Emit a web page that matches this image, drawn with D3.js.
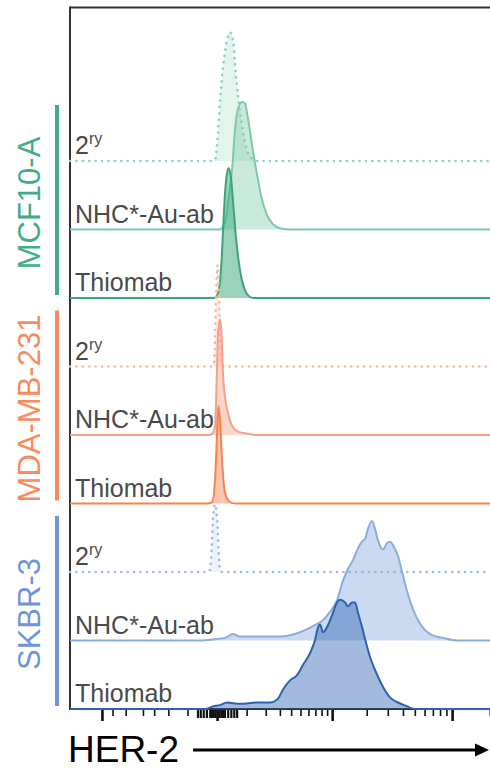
<!DOCTYPE html>
<html>
<head>
<meta charset="utf-8">
<script src="https://cdn.jsdelivr.net/npm/d3@7"></script>
<style>
  html, body { margin: 0; padding: 0; background: #fff; }
  svg { display: block; font-family: "Liberation Sans", Arial, Helvetica, sans-serif; }
</style>
</head>
<body>
<svg id="chart" width="490" height="769"></svg>
<script>
// ---- data: HER-2 fluorescence histograms (normalised to mode, %) ----
const cellLines = ["MCF10-A", "MDA-MB-231", "SKBR-3"];
const stainings = ["2ry", "NHC*-Au-ab", "Thiomab"];

const mcf2ryX  = [-10.6, -5.2, 2.6, 7.9, 16.2, 28, 37.4, 47.4, 54.3, 65.2, 80.7, 101.8, 124.9, 150.1];
const mcf2ryY  = [0, 1, 22, 47, 72, 93, 99, 93, 74, 50, 27, 8, 2, 0];
const mcfNhcX  = [5.2, 16.2, 24.9, 34.2, 44, 54.3, 65.2, 80.7, 93.1, 106.3, 124.9, 150.1, 177.7, 208.1, 248.3, 301.1, 389.2];
const mcfNhcY  = [0, 2, 9, 27, 46, 77, 93, 98, 97, 85, 65, 42, 23, 11, 4, 1, 0];
const mcfThioX = [-7.9, 2.6, 10.6, 16.2, 22, 28, 32.6, 40.7, 47.4, 57.9, 72.9, 88.9, 106.3, 129.7];
const mcfThioY = [0, 4, 22, 52, 81, 96, 100, 92, 74, 46, 21, 8, 2, 0];

const mda2ryX  = [-16.2, -7.9, -5.2, -2.6, 1.3, 5.2, 7.9, 13.4, 19];
const mda2ryY  = [0, 2, 23, 54, 78, 54, 23, 2, 0];
const mdaNhcX  = [-22, -13.4, -5.2, 0, 2.6, 7.9, 12, 16.2, 22, 28, 47.4, 72.9, 106.3, 139.7];
const mdaNhcY  = [0, 1, 7, 53, 79, 89, 77, 46, 29, 20, 6, 2, 1, 0];
const mdaThioX = [-24.9, -13.4, -5.2, 0, 3.4, 7.9, 13.4, 22, 37.4, 54.3];
const mdaThioY = [0, 1, 18, 54, 75, 64, 33, 8, 1, 0];

const skb2ryX  = [-24.9, -19, -14.8, -10.6, -5.2, 0, 3.9, 7.9, 13.4];
const skb2ryY  = [0, 2, 17, 42, 52, 42, 17, 2, 0];
const skbNhcX  = [-50.8, -5.2, 22, 47.4, 72.9, 139.7, 301.1, 439.6, 555.5, 694.4,
                  807.9, 956.6, 1105.7, 1249.5, 1382, 1527.2, 1686.1, 1824.1, 1934.4, 2051,
                  2216.6, 2348.9, 2488.7, 2739.3, 2957, 3130.9, 3378.1, 3644, 3930, 4318.1,
                  4832.9, 5509.2, 6638.3, 8448.8, 10943.5];
const skbNhcY  = [0, 1, 2, 5, 3, 3, 3, 5, 8, 12,
                  15, 22, 31, 46, 55, 62, 71, 76, 78, 86,
                  92, 86, 77, 70, 75, 76, 72, 65, 53, 38,
                  24, 13, 5, 2, 0];
const skbThioX = [-34.2, -10.6, 7.9, 28, 72.9, 150.1, 227.6, 285.3, 325.8, 389.2,
                  461.1, 530.6, 621.8, 694.4, 741.3, 774, 825.3, 898.2, 997.2, 1105.7,
                  1175.6, 1301.1, 1382, 1497.1, 1589, 1686.1, 1824.1, 1972.6, 2132.2, 2348.9,
                  2739.3, 3130.9, 3644, 4318.1, 5017.4];
const skbThioY = [0, 2, 3, 5, 4, 5, 5, 8, 15, 22,
                  26, 34, 43, 53, 63, 65, 59, 63, 72, 82,
                  84, 82, 79, 82, 82, 74, 63, 51, 40, 30,
                  17, 9, 5, 2, 0];

// axis ticks (no labels)
const majorTicks = [-1000, 0, 1000, 10000];
const minorTicks = [-800, -600, -400, -300, -200, -100,
                    100, 200, 300, 400, 500, 600, 700, 800, 900,
                    2000, 3000, 4000, 5000, 6000, 7000, 8000, 9000, 20000];
const linearTicks = [-60, -50, -40, -30, -20, -15, -10, -5, 5, 10, 15, 20, 30, 40, 50, 60];
const axisTitle = "HER-2";

// ---- styling ----
const groupColors = ["#42ad84", "#f98a5c", "#6f95d8"];
const rowStyle = [
  { stroke: "#8fd4b6", fillOp: 0.25, dotted: true },
  { stroke: "#7fcaa8", fillOp: 0.42, dotted: false },
  { stroke: "#3aa57a", fillOp: 0.50, dotted: false },
  { stroke: "#f9b8a1", fillOp: 0.25, dotted: true },
  { stroke: "#f4a189", fillOp: 0.45, dotted: false },
  { stroke: "#f7834f", fillOp: 0.45, dotted: false },
  { stroke: "#a3bbe7", fillOp: 0.20, dotted: true },
  { stroke: "#8badde", fillOp: 0.45, dotted: false },
  { stroke: "#2e62b0", fillOp: 0.44, dotted: false }
];

const rows = [
  [mcf2ryX, mcf2ryY], [mcfNhcX, mcfNhcY], [mcfThioX, mcfThioY],
  [mda2ryX, mda2ryY], [mdaNhcX, mdaNhcY], [mdaThioX, mdaThioY],
  [skb2ryX, skb2ryY], [skbNhcX, skbNhcY], [skbThioX, skbThioY]
].map((r, i) => ({
  key: cellLines[Math.floor(i / 3)] + "|" + stainings[i % 3],
  group: Math.floor(i / 3),
  label: stainings[i % 3],
  pts: r[0].map((v, j) => [v, r[1][j]]),
  style: rowStyle[i]
}));

// ---- layout ----
const plotL = 70, plotR = 490, plotT = 7.5, plotB = 709;
const svg = d3.select("#chart");

const x = d3.scaleSymlog().constant(140).domain([-1900, 20080]).range([plotL, plotR]);
const rowY = d3.scalePoint().domain(rows.map(r => r.key)).range([161, plotB]);
const hScale = d3.scaleLinear().domain([0, 100]).range([0, 130]);

// frame
svg.append("line").attr("x1", plotL).attr("x2", plotR).attr("y1", plotT).attr("y2", plotT)
  .attr("stroke", "#333").attr("stroke-width", 2);
svg.append("line").attr("x1", plotL).attr("x2", plotL).attr("y1", plotT - 1).attr("y2", plotB + 1)
  .attr("stroke", "#333").attr("stroke-width", 2);
svg.append("line").attr("x1", plotL).attr("x2", plotR).attr("y1", plotB).attr("y2", plotB)
  .attr("stroke", "#333").attr("stroke-width", 2);

// ridges
const [d0, d1] = x.domain();
const curves = svg.append("g");
rows.forEach(r => {
  const base = rowY(r.key);
  const data = [[d0, 0], ...r.pts, [d1, 0]];
  const area = d3.area().x(d => x(d[0])).y0(base).y1(d => base - hScale(d[1])).curve(d3.curveMonotoneX);
  const line = d3.line().x(d => x(d[0])).y(d => base - hScale(d[1])).curve(d3.curveMonotoneX);
  curves.append("path").attr("d", area(data))
    .attr("fill", r.style.stroke).attr("fill-opacity", r.style.fillOp).attr("stroke", "none");
  const p = curves.append("path").attr("d", line(data))
    .attr("fill", "none").attr("stroke", r.style.stroke)
    .attr("stroke-linejoin", "round");
  if (r.style.dotted) {
    p.attr("stroke-width", 2.6).attr("stroke-dasharray", "0.1,6.3").attr("stroke-linecap", "round");
  } else {
    p.attr("stroke-width", 2);
  }
});

// row labels
const labels = svg.append("g").attr("fill", "#4a4a4a").attr("font-size", 25);
rows.forEach(r => {
  const base = rowY(r.key);
  const t = labels.append("text").attr("x", plotL + 5).attr("y", base - 7);
  if (r.label === "2ry") {
    t.append("tspan").text("2");
    t.append("tspan").attr("font-size", 16).attr("dy", -10).text("ry");
  } else {
    t.text(r.label);
  }
});

// cell line brackets and names
cellLines.forEach((name, g) => {
  const members = rows.filter(r => r.group === g);
  const top = rowY(members[0].key) - 56;
  const bottom = rowY(members[members.length - 1].key) - 3;
  svg.append("rect").attr("x", 55).attr("y", top).attr("width", 4).attr("height", bottom - top)
    .attr("fill", groupColors[g]);
  svg.append("text")
    .attr("transform", `translate(40,${(top + bottom) / 2 + 3}) rotate(-90)`)
    .attr("text-anchor", "middle").attr("font-size", 31).attr("fill", groupColors[g])
    .text(name);
});

// x axis: minor, near-zero (linear region) and major ticks
const axes = [
  { ticks: minorTicks, size: 6, width: 1.6 },
  { ticks: linearTicks, size: 8, width: 2.2 },
  { ticks: majorTicks, size: 11, width: 2.6 }
];
axes.forEach(a => {
  const g = svg.append("g").attr("transform", `translate(0,${plotB + 1})`)
    .call(d3.axisBottom(x).tickValues(a.ticks).tickSize(a.size).tickFormat(""));
  g.select(".domain").remove();
  g.selectAll(".tick line").attr("stroke", "#111").attr("stroke-width", a.width);
});

// axis title with arrow
svg.append("text").attr("x", 68).attr("y", 762).attr("font-size", 37).attr("fill", "#000")
  .text(axisTitle);
svg.append("line").attr("x1", 193).attr("x2", 478).attr("y1", 750).attr("y2", 750)
  .attr("stroke", "#000").attr("stroke-width", 3);
svg.append("path").attr("d", "M475,743.5 L489,750 L475,756.5 Z").attr("fill", "#000");
</script>
</body>
</html>
